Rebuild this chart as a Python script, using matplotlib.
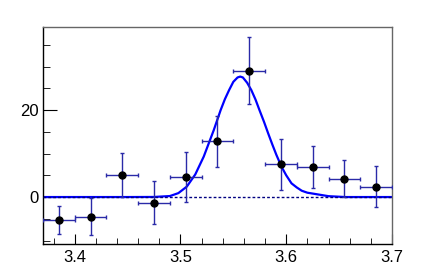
import numpy as np
import matplotlib
matplotlib.use("Agg")
import matplotlib.pyplot as plt
from matplotlib.ticker import MultipleLocator, FixedLocator

plt.rcParams['font.family'] = ['Liberation Sans', 'DejaVu Sans']

# data points (bin centres, counts, errors)
bin_x = [3.385, 3.415, 3.445, 3.475, 3.505, 3.535, 3.565, 3.595, 3.625, 3.655, 3.685]
counts = [-5.3, -4.5, 5.1, -1.3, 4.6, 12.8, 29.0, 7.5, 6.9, 4.2, 2.4]
count_err = [3.3, 4.2, 5.1, 4.9, 5.7, 5.8, 7.7, 5.8, 4.8, 4.3, 4.7]
bin_halfwidth = 0.015

# fit curve
fit_x = [3.37, 3.40, 3.45, 3.475, 3.490, 3.498, 3.506, 3.514, 3.522, 3.5315, 3.538, 3.542,
         3.546, 3.550, 3.554, 3.5565, 3.559, 3.563, 3.567, 3.571, 3.5747, 3.579, 3.583,
         3.587, 3.5907, 3.5955, 3.600, 3.605, 3.610, 3.6147, 3.620, 3.6275,
         3.640, 3.656, 3.68, 3.70]
fit_y = [0.0, 0.0, 0.0, 0.02, 0.23, 0.9, 2.4, 5.2, 9.3, 15.4, 20.0, 22.5,
         24.6, 26.5, 27.5, 27.7, 27.5, 26.3, 24.6, 22.4, 20.0, 17.3, 14.6,
         12.0, 9.7, 7.0, 5.0, 3.15, 2.2, 1.45, 1.0, 0.7,
         0.2, 0.0, 0.0, 0.0]
bkg_x = [3.37, 3.70]
bkg_y = [0.0, 0.0]

fig = plt.figure(figsize=(4.36, 2.72), dpi=100)
ax = fig.add_axes([0.0986, 0.1029, 0.8004, 0.7978])

ax.plot(fit_x, fit_y, color='#0000ff', lw=1.6, zorder=2)
ax.plot(bkg_x, bkg_y, color='#000080', lw=1.0, ls=(0, (2, 1.5)), zorder=3)
ax.errorbar(bin_x, counts, xerr=bin_halfwidth, yerr=count_err, fmt='o', color='black',
            ms=5, ecolor='#2a2aa8', elinewidth=1.0, capsize=1.5, capthick=1.0, zorder=4)

ax.set_xlim(3.37, 3.70)
ax.set_ylim(-10.8, 39.1)

ax.xaxis.set_major_locator(FixedLocator([3.4, 3.5, 3.6, 3.7]))
ax.xaxis.set_minor_locator(MultipleLocator(0.02))
ax.yaxis.set_major_locator(FixedLocator([0, 20]))
ax.yaxis.set_minor_locator(MultipleLocator(5))
ax.set_xticklabels(['3.4', '3.5', '3.6', '3.7'])
ax.set_yticklabels(['0', '20'])

ax.tick_params(which='both', direction='in', top=False, right=False, labelsize=12, colors='black')
ax.tick_params(axis='y', which='major', length=10, pad=3)
ax.tick_params(axis='y', which='minor', length=5)
ax.tick_params(axis='x', which='major', length=7, pad=4)
ax.tick_params(axis='x', which='minor', length=4)

for s in ['top', 'right']:
    ax.spines[s].set_color('#666666')
for s in ax.spines.values():
    s.set_linewidth(1.0)

fig.savefig('out.png', dpi=100)
